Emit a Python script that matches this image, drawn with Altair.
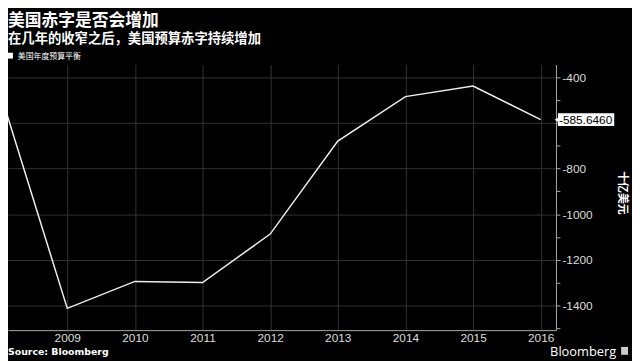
import altair as alt
import pandas as pd

# ---- data ----
years = [2008, 2009, 2010, 2011, 2012, 2013, 2014, 2015, 2016]
balance = [-458.6, -1412.7, -1294.4, -1299.6, -1087.0, -679.5, -484.6, -438.5, -585.646]
x_ticks = [2009, 2010, 2011, 2012, 2013, 2014, 2015, 2016]
y_ticks = [-1500, -1400, -1300, -1200, -1100, -1000, -900, -800, -700, -600, -500, -400, -300]
last_label = ["-585.6460"]

title_text = ["美国赤字是否会增加"]
subtitle_text = ["在几年的收窄之后，美国预算赤字持续增加"]
legend_text = ["美国年度预算平衡"]
y_title_text = ["十亿美元"]
source_text = ["Source: Bloomberg"]
brand_text = ["Bloomberg"]

df = pd.DataFrame({"year": years, "balance": balance})
last_df = pd.DataFrame({"year": [years[-1]], "balance": [balance[-1]], "label": last_label})

W, H = 555, 269
CJK = "Noto Sans CJK SC"
LAT = "Liberation Sans"

xs = alt.Scale(domain=[2008.124, 2016.226], nice=False, zero=False)
ys = alt.Scale(domain=[-1508, -344], nice=False, zero=False)

x_axis = alt.Axis(
    values=x_ticks, format="d", title=None, grid=True, gridColor="#333333",
    ticks=False, domainColor="#aaaaaa", labelColor="#dddddd", labelFontSize=12,
    labelFont=LAT, labelPadding=3, labelFlush=False, labelOverlap=False,
)
# labels every 200, hidden where the last-value tag covers the axis
y_axis = alt.Axis(
    orient="right", values=y_ticks, title=None, grid=True, gridColor="#333333",
    gridOpacity={"condition": {"test": "datum.value % 200 === 0", "value": 1}, "value": 0},
    domainColor="#aaaaaa", tickColor="#aaaaaa", tickSize=4, labelPadding=2,
    labelColor="#dddddd", labelFontSize=12, labelFont=LAT,
    labelExpr=(
        "datum.value % 200 === 0 && abs(datum.value - (" + str(balance[-1]) + ")) > 40"
        " ? '-' + format(-datum.value, 'd') : ''"
    ),
    labelOverlap=False, labelBound=False, labelFlush=False,
)

line = alt.Chart(df).mark_line(color="#eeeeee", strokeWidth=1.5, clip=True).encode(
    x=alt.X("year:Q", scale=xs, axis=x_axis),
    y=alt.Y("balance:Q", scale=ys, axis=y_axis),
)

box = alt.Chart(last_df).transform_calculate(
    top="datum.balance + 28", bot="datum.balance - 28"
).mark_rect(color="white").encode(
    x=alt.value(557), x2=alt.value(614),
    y=alt.Y("top:Q", scale=ys, axis=y_axis), y2="bot:Q",
)
pointer = alt.Chart(last_df).mark_point(shape="triangle-left", filled=True, color="white",
                                         opacity=1, size=30).encode(
    x=alt.value(556), y=alt.Y("balance:Q", scale=ys, axis=y_axis),
)
value_text = alt.Chart(last_df).mark_text(align="left", baseline="middle", color="black",
                                          fontSize=12, font=LAT).encode(
    x=alt.value(558), y=alt.Y("balance:Q", scale=ys, axis=y_axis), text="label:N",
)


def label(texts, x, y, **kw):
    return alt.Chart(pd.DataFrame({"t": texts})).mark_text(**kw).encode(
        x=alt.value(x), y=alt.value(y), text="t:N"
    )


title = label(title_text, 0, -39.5, align="left", baseline="alphabetic", font=CJK,
              fontSize=17, fontWeight="bold", color="white")
subtitle = label(subtitle_text, 0, -21.5, align="left", baseline="alphabetic", font=CJK,
                 fontSize=13.5, fontWeight="bold", color="white")
legend_sq = alt.Chart(pd.DataFrame({"t": legend_text})).mark_rect(color="white").encode(
    x=alt.value(0), x2=alt.value(5), y=alt.value(-12), y2=alt.value(-6)
)
legend = label(legend_text, 10, -5.5, align="left", baseline="alphabetic", font=CJK,
               fontSize=8, color="white")
y_title = label(y_title_text, 622, 130, align="center", baseline="middle", font=CJK,
                fontSize=11, fontWeight="bold", color="white", angle=90)
source = label(source_text, 0, 294, align="left", baseline="alphabetic", font="DejaVu Sans",
               fontSize=9.5, fontWeight="bold", color="white")
brand = label(brand_text, 616, 295, align="right", baseline="alphabetic", font="Open Sans",
              fontSize=13, color="white")
brand_icon = alt.Chart(pd.DataFrame({"t": brand_text})).mark_rect(color="#cccccc").encode(
    x=alt.value(621), x2=alt.value(628), y=alt.value(286), y2=alt.value(294)
)

chart = alt.layer(
    line, box, pointer, value_text, title, subtitle, legend_sq, legend,
    y_title, source, brand, brand_icon,
).properties(
    width=W, height=H, background="black",
    padding={"left": 0, "top": 55, "right": 77, "bottom": 29},
    autosize=alt.AutoSizeParams(type="none"),
).configure_view(stroke=None)

chart.save("out.html", embed_options={"renderer": "svg", "actions": False})
